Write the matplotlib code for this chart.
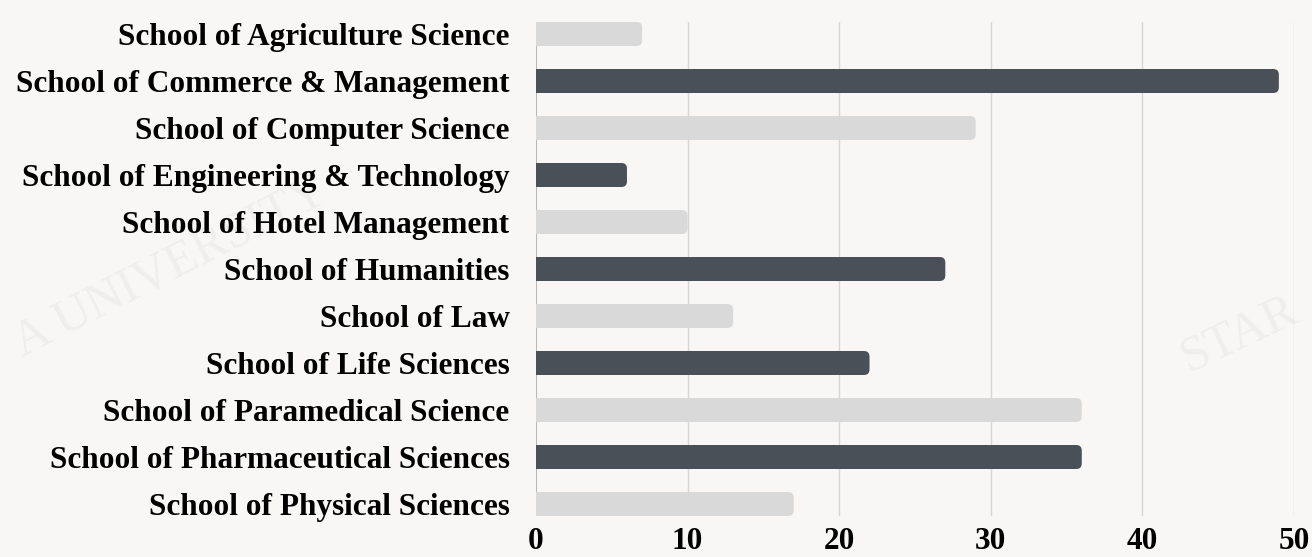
import matplotlib.pyplot as plt
from matplotlib.patches import FancyBboxPatch

schools = ["School of Agriculture Science", "School of Commerce & Management",
           "School of Computer Science", "School of Engineering & Technology",
           "School of Hotel Management", "School of Humanities", "School of Law",
           "School of Life Sciences", "School of Paramedical Science",
           "School of Pharmaceutical Sciences", "School of Physical Sciences"]
counts = [7, 49, 29, 6, 10, 27, 13, 22, 36, 36, 17]
xticks = [0, 10, 20, 30, 40, 50]

light = "#d9d9d9"
dark = "#4a5057"
bg = "#f8f7f5"
bar_h = 0.51

fig = plt.figure(figsize=(13.12, 5.57), dpi=100, facecolor=bg)
ax = fig.add_axes([536 / 1312, 1 - 516 / 557, (1294 - 536) / 1312, (516 - 22) / 557])
ax.set_facecolor("none")
ax.set_zorder(2)

# faint watermark text behind everything
fig.text(0.005, 0.52, "A UNIVERSITY", fontsize=36, family="Liberation Serif", color="#efeeec",
         rotation=27, ha="left", va="center", zorder=-1)
fig.text(0.995, 0.40, "STAR", fontsize=36, family="Liberation Serif", color="#efeeec",
         rotation=25, ha="right", va="center", zorder=-1)

ax.set_xlim(0, 50)
ax.set_ylim(len(schools) - 1 + bar_h / 2, -bar_h / 2)

for t in xticks[1:]:
    ax.axvline(t, color="#d6d6d6", lw=1, zorder=1)
ax.axvline(0, color="#b8b8b8", lw=1.5, zorder=1)

# rounding radius in data units: x in px per unit vs y px per unit
px_x = (1294 - 536) / 50
px_y = (516 - 22) / (len(schools) - 1 + bar_h)
r = 5.5 / px_x
for i, (name, v) in enumerate(zip(schools, counts)):
    c = light if i % 2 == 0 else dark
    ax.barh(i, v - r, height=bar_h, color=c, zorder=2, align="center")
    p = FancyBboxPatch((0, i - bar_h / 2), v, bar_h,
                       boxstyle="round,pad=0,rounding_size=%f" % r,
                       mutation_aspect=px_x / px_y, fc=c, ec="none", zorder=2)
    ax.add_patch(p)

ax.set_yticks(range(len(schools)))
ax.set_yticklabels(schools)
ax.set_xticks(xticks)
for lab in ax.get_yticklabels() + ax.get_xticklabels():
    lab.set_fontfamily("Liberation Serif")
    lab.set_fontweight("bold")
    lab.set_fontsize(22.5)
ax.tick_params(axis="y", length=0, pad=19)
ax.tick_params(axis="x", length=0, pad=8)
for s in ax.spines.values():
    s.set_visible(False)

fig.savefig("out.png", dpi=100, facecolor=bg)
